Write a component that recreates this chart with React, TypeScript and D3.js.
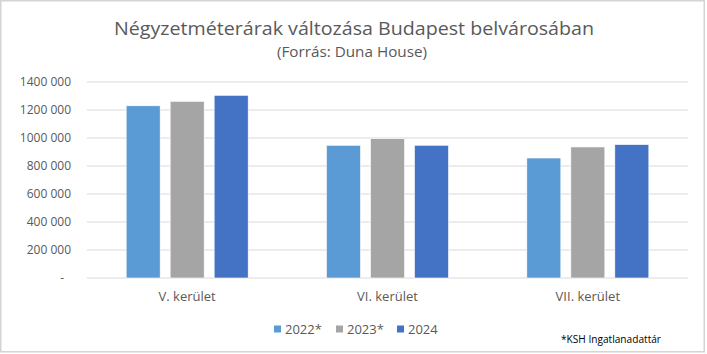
import React from "react";
import * as d3 from "d3";

const categories = ["V. kerület", "VI. kerület", "VII. kerület"];
const seriesNames = ["2022*", "2023*", "2024"];
const values2022 = [1230000, 948000, 857000];
const values2023 = [1262000, 995000, 936000];
const values2024 = [1305000, 948000, 953000];
const yTicks = [0, 200000, 400000, 600000, 800000, 1000000, 1200000, 1400000];
const yTickLabels = ["-", "200 000", "400 000", "600 000", "800 000", "1000 000", "1200 000", "1400 000"];
const colors = ["#5B9BD5", "#A5A5A5", "#4472C4"];
const title = "Négyzetméterárak változása Budapest belvárosában";
const subtitle = "(Forrás: Duna House)";
const footnote = "*KSH Ingatlanadattár";

const W = 707;
const H = 354;
const FONT = "'Open Sans', 'Liberation Sans', sans-serif";
const TXT = "#595959";

export default function App() {
  const seriesValues = [values2022, values2023, values2024];
  const x = d3.scaleBand<string>().domain(categories).range([87, 688]);
  const xs = d3.scaleBand<string>().domain(seriesNames).range([-61, 61]).paddingInner(10 / 44);
  const y = d3.scaleLinear().domain([0, 1400000]).range([278, 82]);

  const legendX = [274, 336, 397];

  return (
    <div style={{ position: "absolute", left: 0, top: 0 }}>
      <svg width={W} height={H} style={{ display: "block", background: "#fff" }}>
        <rect x={0.75} y={0.75} width={703.5} height={351} fill="#fff" stroke="#d4d4d4" strokeWidth={1.5} />
        <text x={354} y={35} textAnchor="middle" fontFamily={FONT} fontSize={18.5} fill={TXT}
          textLength={480} lengthAdjust="spacingAndGlyphs">{title}</text>
        <text x={352} y={57} textAnchor="middle" fontFamily={FONT} fontSize={14} fill={TXT}
          textLength={150} lengthAdjust="spacingAndGlyphs">{subtitle}</text>
        {yTicks.map((t, i) => (
          <g key={t}>
            <line x1={87} x2={688} y1={y(t)} y2={y(t)} stroke="#d9d9d9" strokeWidth={1} />
            <text x={t === 0 ? 64 : 71} y={y(t) + 4} textAnchor="end" fontFamily={FONT} fontSize={12} fill={TXT}>
              {yTickLabels[i]}
            </text>
          </g>
        ))}
        {categories.map((c, ci) => (
          <g key={c} transform={`translate(${(x(c) as number) + x.bandwidth() / 2},0)`}>
            {seriesNames.map((s, si) => {
              const v = seriesValues[si][ci];
              return (
                <rect key={s} x={xs(s) as number} y={y(v)} width={xs.bandwidth()} height={y(0) - y(v)}
                  fill={colors[si]} stroke="#fff" strokeWidth={0.6} />
              );
            })}
            <text x={0} y={301} textAnchor="middle" fontFamily={FONT} fontSize={13} fill={TXT}>{c}</text>
          </g>
        ))}
        {seriesNames.map((s, si) => (
          <g key={s} transform={`translate(${legendX[si]},0)`}>
            <rect x={0} y={325.5} width={7} height={7} fill={colors[si]} />
            <text x={11} y={334} fontFamily={FONT} fontSize={13} fill={TXT}>{s}</text>
          </g>
        ))}
        <text x={561} y={343} fontFamily={FONT} fontSize={10.5} fill="#000"
          textLength={100} lengthAdjust="spacingAndGlyphs">{footnote}</text>
      </svg>
    </div>
  );
}
